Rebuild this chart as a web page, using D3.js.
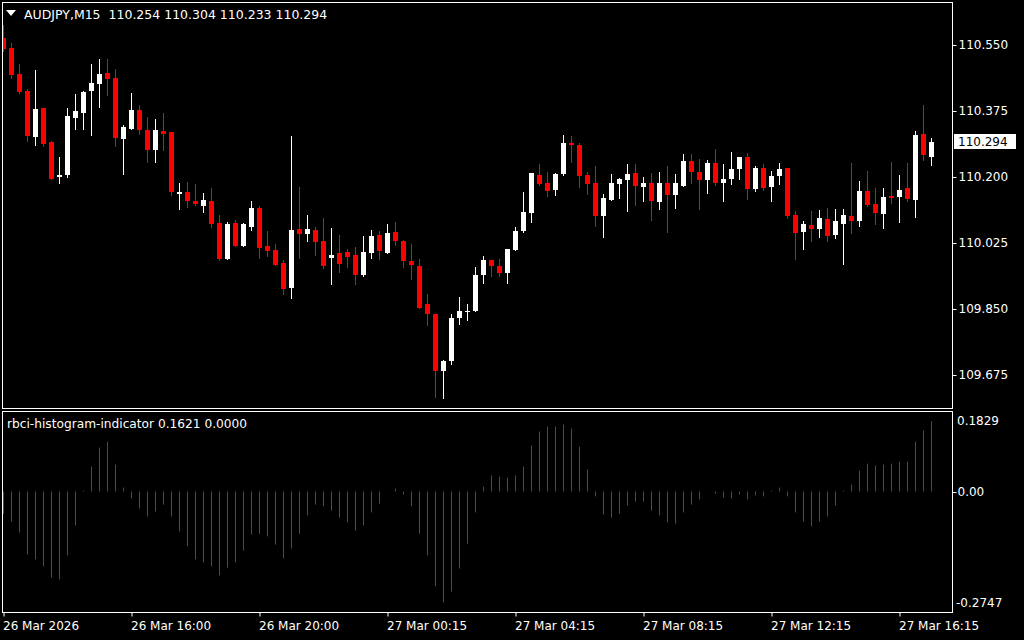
<!DOCTYPE html>
<html><head><meta charset="utf-8">
<script src="https://cdn.jsdelivr.net/npm/d3@7"></script>
<style>html,body{margin:0;padding:0;background:#000;overflow:hidden}</style>
</head><body><svg id="c" width="1024" height="640"></svg>
<script>
const symbolTitle = "AUDJPY,M15  110.254 110.304 110.233 110.294";
const indicatorTitle = "rbci-histogram-indicator 0.1621 0.0000";

const openP = [110.569,110.542,110.473,110.428,110.306,110.383,110.293,110.200,110.205,110.356,
110.370,110.428,110.447,110.476,110.463,110.300,110.327,110.378,110.325,110.271,
110.322,110.319,110.155,110.160,110.136,110.123,110.136,110.078,109.983,110.078,
110.017,110.067,110.118,110.017,110.006,109.972,109.906,110.062,110.049,110.059,
110.030,109.985,109.998,110.001,109.993,109.940,109.998,110.046,109.998,110.054,
110.030,109.977,109.964,109.863,109.837,109.686,109.712,109.826,109.842,109.845,
109.940,109.980,109.964,109.946,110.006,110.057,110.105,110.205,110.184,110.165,
110.208,110.290,110.285,110.205,110.184,110.097,110.139,110.181,110.192,110.211,
110.173,110.184,110.134,110.184,110.152,110.176,110.242,110.213,110.192,110.237,
110.184,110.195,110.221,110.253,110.168,110.224,110.173,110.203,110.224,110.099,
110.054,110.073,110.062,110.089,110.046,110.075,110.097,110.083,110.163,110.128,
110.102,110.150,110.147,110.171,110.139,110.314,110.254];

const highP = [110.603,110.554,110.500,110.433,110.484,110.383,110.295,110.253,110.383,110.420,
110.428,110.500,110.513,110.513,110.486,110.338,110.422,110.391,110.359,110.354,
110.370,110.319,110.184,110.187,110.181,110.158,110.171,110.099,110.081,110.086,
110.078,110.136,110.123,110.057,110.022,109.980,110.309,110.173,110.099,110.067,
110.091,110.065,110.046,110.009,110.014,110.044,110.059,110.057,110.075,110.081,
110.033,110.022,109.983,109.890,109.837,109.715,109.837,109.882,109.863,109.961,
109.991,109.980,109.983,110.009,110.067,110.160,110.211,110.234,110.213,110.211,
110.311,110.309,110.290,110.213,110.229,110.155,110.208,110.197,110.234,110.234,
110.200,110.211,110.213,110.229,110.208,110.261,110.261,110.248,110.245,110.274,
110.234,110.266,110.253,110.264,110.229,110.234,110.216,110.237,110.224,110.110,
110.083,110.110,110.113,110.118,110.115,110.115,110.237,110.189,110.216,110.171,
110.171,110.240,110.205,110.237,110.322,110.391,110.304];

const lowP = [110.534,110.463,110.422,110.295,110.285,110.282,110.195,110.184,110.200,110.327,
110.327,110.311,110.386,110.417,110.282,110.208,110.327,110.314,110.240,110.240,
110.271,110.152,110.115,110.120,110.126,110.107,110.067,109.980,109.983,110.017,
110.017,110.059,109.985,109.991,109.967,109.890,109.879,109.985,110.030,109.993,
109.958,109.916,109.948,109.961,109.916,109.938,109.985,109.983,109.998,110.020,
109.961,109.930,109.853,109.808,109.617,109.614,109.704,109.810,109.822,109.845,
109.919,109.938,109.938,109.919,110.006,110.054,110.081,110.179,110.150,110.152,
110.205,110.240,110.173,110.155,110.070,110.041,110.139,110.144,110.109,110.126,
110.136,110.086,110.115,110.054,110.118,110.176,110.184,110.115,110.158,110.179,
110.136,110.181,110.195,110.142,110.163,110.165,110.136,110.181,110.091,109.983,
110.009,110.030,110.041,110.030,110.038,109.969,110.051,110.070,110.123,110.075,
110.065,110.131,110.081,110.136,110.094,110.245,110.233];

const closeP = [110.539,110.470,110.425,110.309,110.380,110.288,110.195,110.205,110.362,110.375,
110.425,110.449,110.473,110.460,110.303,110.332,110.378,110.325,110.271,110.325,
110.314,110.160,110.160,110.136,110.128,110.139,110.075,109.983,110.075,110.017,
110.075,110.118,110.012,110.004,109.967,109.903,110.059,110.049,110.062,110.028,
109.964,109.993,109.969,109.988,109.940,110.001,110.044,110.004,110.051,110.030,
109.977,109.967,109.853,109.837,109.686,109.712,109.826,109.845,109.845,109.940,
109.980,109.964,109.946,110.009,110.057,110.107,110.211,110.181,110.163,110.208,
110.290,110.285,110.203,110.181,110.097,110.144,110.184,110.195,110.208,110.176,
110.184,110.136,110.184,110.152,110.184,110.242,110.213,110.192,110.237,110.184,
110.195,110.221,110.253,110.168,110.224,110.171,110.203,110.221,110.097,110.051,
110.075,110.062,110.091,110.044,110.083,110.099,110.083,110.163,110.126,110.105,
110.147,110.144,110.166,110.142,110.311,110.258,110.294];

const histValues = [-0.051,-0.069,-0.094,-0.145,-0.156,-0.172,-0.198,-0.202,-0.147,-0.078,
0.001,0.057,0.101,0.115,0.062,0.009,-0.016,-0.039,-0.057,-0.046,
-0.030,-0.057,-0.092,-0.126,-0.156,-0.163,-0.172,-0.193,-0.175,-0.163,
-0.136,-0.099,-0.097,-0.103,-0.122,-0.154,-0.131,-0.097,-0.055,-0.030,
-0.034,-0.044,-0.060,-0.071,-0.090,-0.078,-0.048,-0.028,0.000,0.007,
-0.007,-0.034,-0.097,-0.147,-0.218,-0.255,-0.230,-0.177,-0.120,-0.048,
0.011,0.037,0.034,0.032,0.037,0.057,0.106,0.138,0.149,0.149,
0.154,0.145,0.103,0.051,-0.011,-0.053,-0.060,-0.051,-0.032,-0.023,
-0.023,-0.044,-0.055,-0.071,-0.074,-0.048,-0.030,-0.018,0.000,-0.005,
-0.014,-0.016,-0.007,-0.018,-0.009,-0.011,0.001,0.009,-0.011,-0.048,
-0.069,-0.080,-0.069,-0.057,-0.032,0.001,0.016,0.048,0.064,0.060,
0.062,0.064,0.069,0.069,0.115,0.140,0.1621];

// U = rising (green), D = falling (red)
const histDir = ("DDDDDDDD"+"UUUUUU"+"DDDDD"+"UU"+"DDDDDDD"+"UUUUU"+"DDD"+"UUUU"+"DDDDD"+"UUUUU"+
 "DDDDDD"+"UUUUUU"+"DD"+"UUUUUUU"+"DDDDDD"+"UUUU"+"DDDD"+"UUUU"+"DDD"+"UDUD"+"UU"+"DDDD"+
 "UUUUUUU"+"D"+"UUUUUUU").split("");

const priceTicks = [109.675, 109.850, 110.025, 110.200, 110.375, 110.550];
const histMax = 0.1829, histMin = -0.2747;
const histTickLabels = ["0.1829", "0.00", "-0.2747"];
const timeTickIdx = [0, 16, 32, 48, 64, 80, 96, 112];
const timeTickLabels = ["26 Mar 2026", "26 Mar 16:00", "26 Mar 20:00", "27 Mar 00:15",
  "27 Mar 04:15", "27 Mar 08:15", "27 Mar 12:15", "27 Mar 16:15"];
const lastPrice = 110.294;

const FONT = "DejaVu Sans, Verdana, sans-serif";
const svg = d3.select("#c");
svg.append("rect").attr("width", 1024).attr("height", 640).attr("fill", "#000");

const n = openP.length;
const x = d3.scaleLinear().domain([0, n - 1]).range([3.5, 3.5 + 8 * (n - 1)]);
const y = d3.scaleLinear().domain([109.5875, 110.664]).range([408, 2]);
const yh = d3.scaleLinear().domain([histMin, histMax]).range([611, 412]);

svg.append("defs").append("clipPath").attr("id", "mainClip")
  .append("rect").attr("x", 3).attr("y", 3).attr("width", 949).attr("height", 405);
svg.append("defs").append("clipPath").attr("id", "subClip")
  .append("rect").attr("x", 3).attr("y", 412).attr("width", 949).attr("height", 200);

const candles = d3.range(n).map(i => ({i, o: openP[i], h: highP[i], l: lowP[i], c: closeP[i]}));
const gMain = svg.append("g").attr("clip-path", "url(#mainClip)");
const cg = gMain.selectAll("g.c").data(candles).join("g").attr("class", "c");
cg.append("line")
  .attr("x1", d => x(d.i)).attr("x2", d => x(d.i))
  .attr("y1", d => Math.round(y(d.h))).attr("y2", d => Math.round(y(d.l)) + 1)
  .attr("stroke", d => d.c >= d.o ? "#ffffff" : "#ff0000").attr("stroke-width", 1);
cg.append("rect")
  .attr("x", d => x(d.i) - 2.5).attr("width", 5)
  .attr("y", d => Math.round(y(Math.max(d.o, d.c))))
  .attr("height", d => Math.max(1, Math.round(y(Math.min(d.o, d.c))) - Math.round(y(Math.max(d.o, d.c)))))
  .attr("fill", d => d.c >= d.o ? "#ffffff" : "#ff0000");

// histogram
const gSub = svg.append("g").attr("clip-path", "url(#subClip)");
const hist = d3.range(n).map(i => ({i, v: histValues[i], d: histDir[i]}));
gSub.selectAll("rect.h").data(hist.filter(d => d.v !== 0)).join("rect").attr("class", "h")
  .attr("x", d => x(d.i) - 0.5).attr("width", 1)
  .attr("y", d => d.v > 0 ? Math.min(yh(d.v), yh(0) - 1) : yh(0))
  .attr("height", d => Math.max(1, Math.abs(yh(d.v) - yh(0))))
  .attr("fill", d => d.d === "U" ? "#008000" : "#ff0000");

// frames
svg.append("rect").attr("x", 2.5).attr("y", 2.5).attr("width", 950).attr("height", 406)
  .attr("fill", "none").attr("stroke", "#ffffff");
svg.append("rect").attr("x", 2.5).attr("y", 411.5).attr("width", 950).attr("height", 201)
  .attr("fill", "none").attr("stroke", "#ffffff");

// price axis
const pa = svg.append("g").attr("transform", "translate(952.5,0)")
  .call(d3.axisRight(y).tickValues(priceTicks).tickSize(4).tickPadding(2).tickFormat(d3.format(".3f")));
pa.select(".domain").remove();
pa.selectAll("line").attr("stroke", "#fff");
pa.selectAll("text").attr("fill", "#fff").style("font-family", FONT).style("font-size", "12px");

// last price label
svg.append("rect").attr("x", 954).attr("y", Math.round(y(lastPrice)) - 8).attr("width", 62).attr("height", 15).attr("fill", "#fff");
svg.append("text").attr("x", 958).attr("y", y(lastPrice)).attr("dy", "0.35em")
  .attr("fill", "#000").style("font-family", FONT).style("font-size", "12px").text(d3.format(".3f")(lastPrice));

// histogram axis
const ha = svg.append("g").attr("transform", "translate(952.5,0.5)")
  .call(d3.axisRight(yh).tickValues([0]).tickSize(4).tickPadding(1).tickFormat(() => histTickLabels[1]));
ha.select(".domain").remove();
ha.selectAll("line").attr("stroke", "#fff");
ha.selectAll("text").attr("fill", "#fff").style("font-family", FONT).style("font-size", "12px");
svg.append("text").attr("x", 957).attr("y", yh(histMax) + 9).attr("dy", "0.35em")
  .attr("fill", "#fff").style("font-family", FONT).style("font-size", "12px").text(histTickLabels[0]);
svg.append("text").attr("x", 956).attr("y", yh(histMin) - 8).attr("dy", "0.35em")
  .attr("fill", "#fff").style("font-family", FONT).style("font-size", "12px").text(histTickLabels[2]);

// time axis
const ta = svg.append("g").attr("transform", "translate(0,612.5)")
  .call(d3.axisBottom(x).tickValues(timeTickIdx).tickSize(4).tickPadding(5)
    .tickFormat((d, i) => timeTickLabels[i]));
ta.select(".domain").remove();
ta.selectAll("line").attr("stroke", "#fff");
ta.selectAll("text").attr("fill", "#fff").attr("text-anchor", "start").attr("x", -1)
  .style("font-family", FONT).style("font-size", "12px");

// titles
svg.append("path").attr("d", "M6,10 L16,10 L11,16 Z").attr("fill", "#fff");
svg.append("text").attr("x", 24).attr("y", 19).attr("fill", "#fff")
  .style("white-space", "pre").attr("xml:space", "preserve")
  .style("font-family", FONT).style("font-size", "12.5px").text(symbolTitle);
svg.append("text").attr("x", 7).attr("y", 428).attr("fill", "#fff")
  .style("font-family", FONT).style("font-size", "12.2px").text(indicatorTitle);
</script></body></html>
